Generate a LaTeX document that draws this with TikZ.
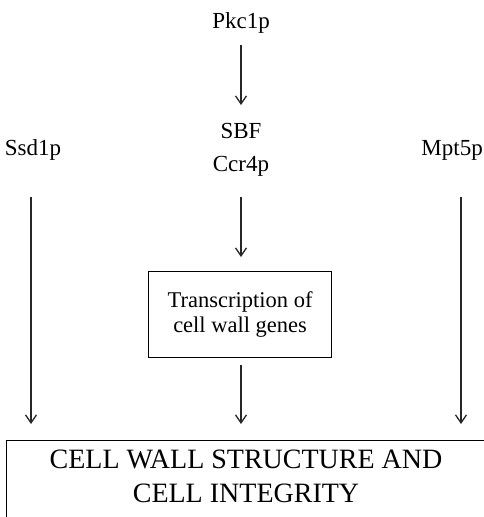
\documentclass[tikz,border=0pt]{standalone}
\usepackage{fontspec}
\setmainfont{Liberation Serif}
\usetikzlibrary{arrows.meta}
\begin{document}
\begin{tikzpicture}[x=1pt,y=-1pt,
  lbl/.style={inner sep=0pt,font=\fontsize{23}{27}\selectfont},
  arr/.style={draw=black!85,line width=1.3pt,-{Straight Barb[length=8pt,width=11pt]}}]
\useasboundingbox (0,0) rectangle (484,517);
\begin{scope}
\clip (0,0) rectangle (484,517);
\node[lbl,anchor=base] (pkc) at (241,28) {Pkc1p};
\node[lbl,anchor=base] (sbf) at (241,138) {SBF};
\node[lbl,anchor=base] (ccr) at (241,171) {Ccr4p};
\node[lbl,anchor=base] (ssd) at (33,155) {Ssd1p};
\node[lbl,anchor=base east] (mpt) at (483,155) {Mpt5p};
\node[draw,line width=1.2pt,minimum width=183pt,minimum height=86pt,align=center,
      font=\fontsize{22.5}{25}\selectfont,anchor=north west] (tr) at (148,271)
      {Transcription of\\cell wall genes};
\node[draw,line width=1.2pt,minimum width=500pt,minimum height=100pt,anchor=north west,
      inner sep=0pt] (cw) at (6,440) {};
\node[font=\fontsize{28}{34}\selectfont,align=center,anchor=base,inner sep=0pt] (cwt) at (246,502)
      {CELL WALL STRUCTURE AND\\CELL INTEGRITY};
\coordinate (a1s) at (241,45);  \coordinate (a1e) at (241,105);
\coordinate (a2s) at (241,197); \coordinate (a2e) at (241,257);
\coordinate (a3s) at (241,365); \coordinate (a3e) at (241,424);
\coordinate (l1s) at (31,197);  \coordinate (l1e) at (31,424);
\coordinate (r1s) at (461,197); \coordinate (r1e) at (461,424);
\draw[arr] (a1s) -- (a1e);
\draw[arr] (a2s) -- (a2e);
\draw[arr] (a3s) -- (a3e);
\draw[arr] (l1s) -- (l1e);
\draw[arr] (r1s) -- (r1e);
\end{scope}
\end{tikzpicture}
\end{document}
